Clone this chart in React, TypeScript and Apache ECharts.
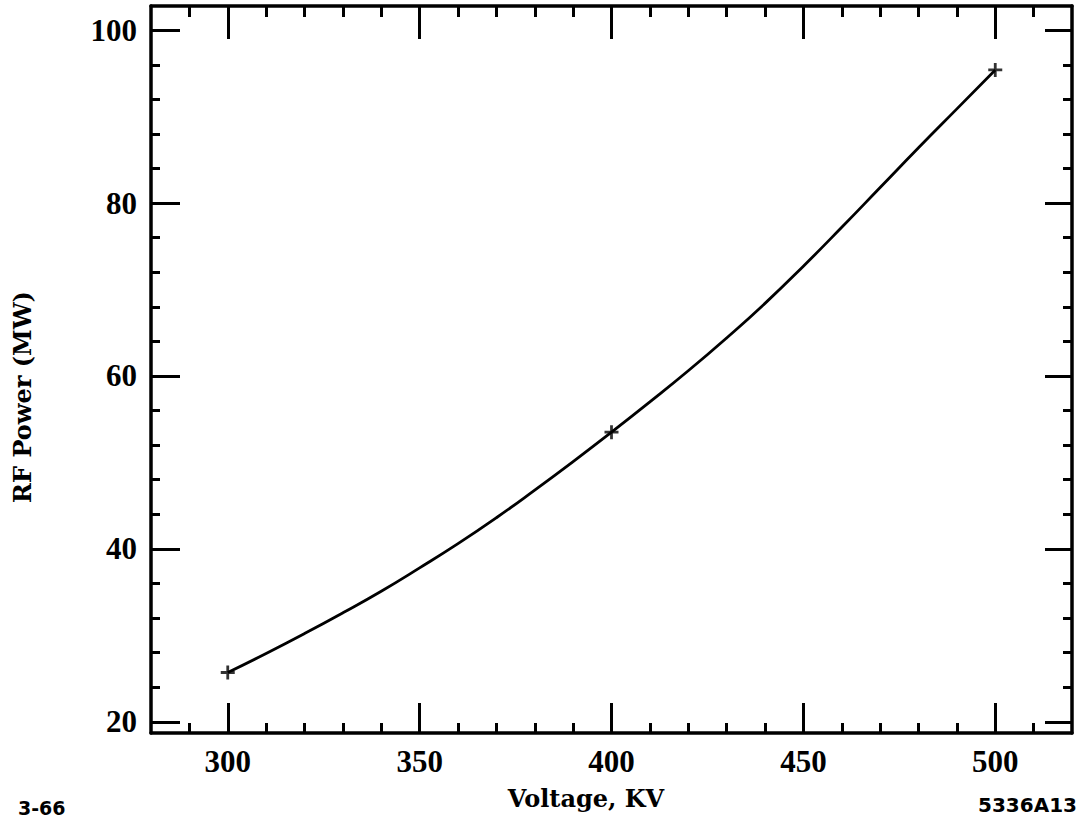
import React, { useEffect, useRef } from "react";
import * as echarts from "echarts";

// measured points (Voltage kV, RF power MW)
const measuredV = [300, 400, 500];
const measuredP = [25.7, 53.5, 95.4];

// fitted curve
const curveV = [300, 310, 320, 330, 340, 350, 360, 370, 380, 390, 400, 410, 420, 430, 440, 450, 460, 470, 480, 490, 500];
const curveP = [25.7, 27.9, 30.2, 32.6, 35.1, 37.8, 40.6, 43.6, 46.8, 50.1, 53.5, 57.0, 60.6, 64.4, 68.4, 72.7, 77.2, 81.8, 86.4, 90.9, 95.4];

const xMajor = [300, 350, 400, 450, 500];
const xMinor = [290, 310, 320, 330, 340, 360, 370, 380, 390, 410, 420, 430, 440, 460, 470, 480, 490, 510];
const yMajor = [20, 40, 60, 80, 100];
const yMinor = [24, 28, 32, 36, 44, 48, 52, 56, 64, 68, 72, 76, 84, 88, 92, 96];

const xTitle = "Voltage, KV";
const yTitle = "RF Power (MW)";
const dateNote = "3-66";
const figId = "5336A13";

const X_MIN = 280, X_MAX = 520, Y_MIN = 18.7, Y_MAX = 102.8;

const PLUS = "path://M4,0h2v4h4v2h-4v4h-2v-4h-4v-2h4z";

export default function App() {
  const ref = useRef<HTMLDivElement>(null);
  useEffect(() => {
    if (!ref.current) return;
    const chart = echarts.init(ref.current, undefined, { renderer: "svg" });
    const tickFont = { fontFamily: "Liberation Serif", fontWeight: "bold" as const, fontSize: 31, color: "#000" };
    const lineStyle = { color: "#000", width: 3.5 };
    const mkX = (pos: "bottom" | "top", vals: number[], len: number, labels: boolean, showLine: boolean) => ({
      type: "value",
      position: pos,
      min: X_MIN,
      max: X_MAX,
      axisLine: { show: showLine, onZero: false, lineStyle },
      axisTick: { show: true, inside: true, length: len, customValues: vals, lineStyle: { color: "#000", width: 3 } },
      axisLabel: labels ? { show: true, customValues: vals, margin: 13, ...tickFont } : { show: false },
      splitLine: { show: false },
    });
    const mkY = (pos: "left" | "right", vals: number[], len: number, labels: boolean, showLine: boolean) => ({
      type: "value",
      position: pos,
      min: Y_MIN,
      max: Y_MAX,
      axisLine: { show: showLine, onZero: false, lineStyle },
      axisTick: { show: true, inside: true, length: len, customValues: vals, lineStyle: { color: "#000", width: 3 } },
      axisLabel: labels ? { show: true, customValues: vals, margin: 14, ...tickFont } : { show: false },
      splitLine: { show: false },
    });
    chart.setOption({
      animation: false,
      backgroundColor: "#fff",
      grid: { left: 151, top: 6, right: 20, bottom: 87, containLabel: false },
      xAxis: [
        mkX("bottom", xMajor, 30, true, true),
        mkX("bottom", xMinor, 10, false, false),
        mkX("top", xMajor, 33, false, true),
        mkX("top", xMinor, 11, false, false),
      ],
      yAxis: [
        mkY("left", yMajor, 29, true, true),
        mkY("left", yMinor, 9, false, false),
        mkY("right", yMajor, 27, false, true),
        mkY("right", yMinor, 9, false, false),
      ],
      series: [
        {
          type: "line",
          xAxisIndex: 0,
          yAxisIndex: 0,
          data: curveV.map((v, i) => [v, curveP[i]]),
          smooth: 0.5,
          showSymbol: false,
          lineStyle: { color: "#000", width: 2.8 },
          z: 3,
        },
        {
          type: "scatter",
          xAxisIndex: 0,
          yAxisIndex: 0,
          data: measuredV.map((v, i) => [v, measuredP[i]]),
          symbol: PLUS,
          symbolSize: 14,
          itemStyle: { color: "#000" },
          z: 4,
        },
      ],
      graphic: [
        {
          type: "text",
          x: 586,
          y: 798,
          style: { text: xTitle, fontFamily: "DejaVu Serif", fontWeight: "bold", fontSize: 24, fill: "#000", textAlign: "center", textVerticalAlign: "middle" },
        },
        {
          type: "text",
          x: 22,
          y: 397,
          rotation: Math.PI / 2,
          style: { text: yTitle, fontFamily: "DejaVu Serif", fontWeight: "bold", fontSize: 24, fill: "#000", textAlign: "center", textVerticalAlign: "middle" },
        },
        {
          type: "text",
          x: 18,
          y: 808,
          style: { text: dateNote, fontFamily: "DejaVu Sans", fontWeight: "bold", fontSize: 19, fill: "#000", textAlign: "left", textVerticalAlign: "middle" },
        },
        {
          type: "text",
          x: 1077,
          y: 805,
          style: { text: figId, fontFamily: "DejaVu Sans", fontWeight: "bold", fontSize: 20, fill: "#000", textAlign: "right", textVerticalAlign: "middle" },
        },
      ],
    });
    return () => chart.dispose();
  }, []);
  return <div ref={ref} style={{ position: "absolute", left: 0, top: 0, width: 1092, height: 820 }} />;
}
